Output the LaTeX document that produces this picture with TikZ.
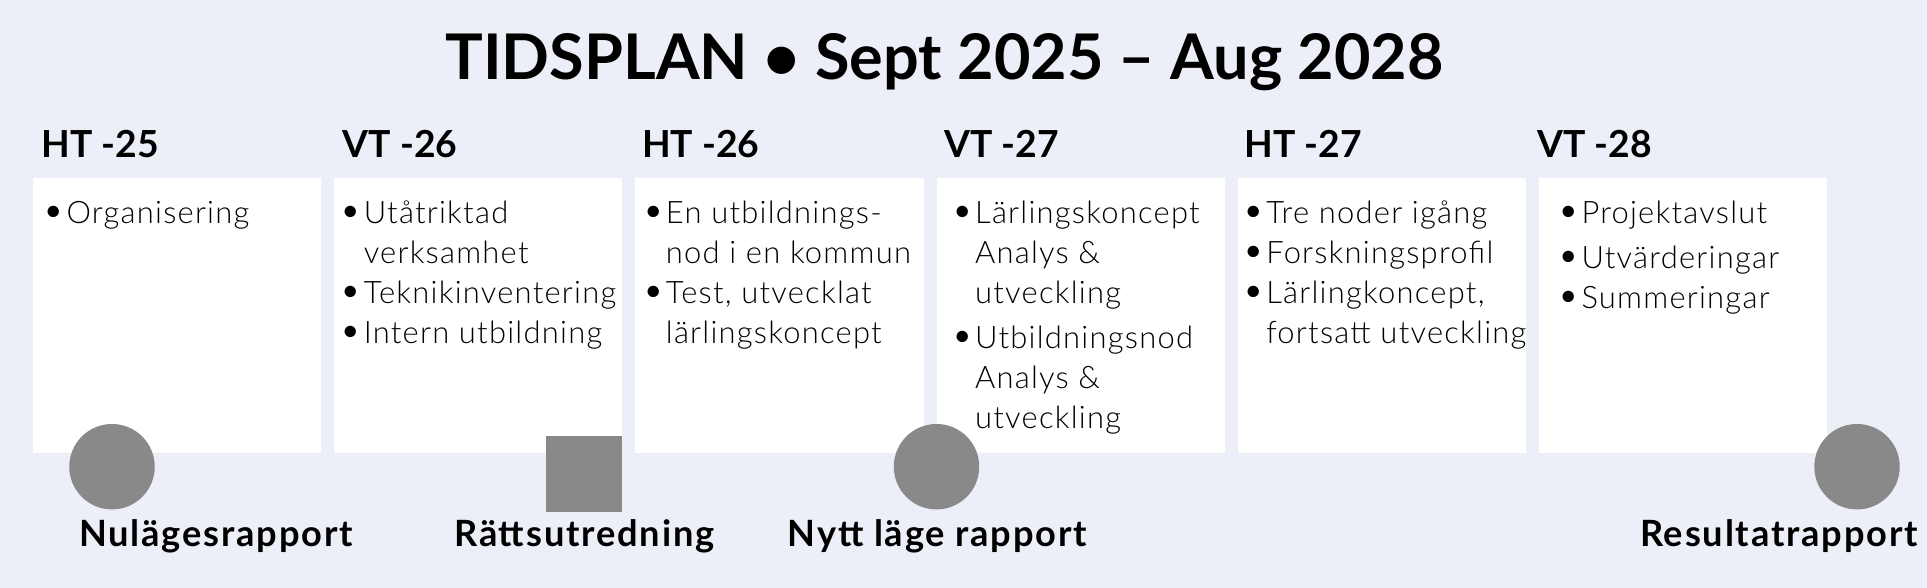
\documentclass[tikz,border=0pt]{standalone}
\usepackage{fontspec}
\setmainfont{Lato}
\newfontfamily\lightfont{Lato Light}[LetterSpace=4]
\newfontfamily\labelfont{Lato}[LetterSpace=5]
\usetikzlibrary{positioning}
\definecolor{bgblue}{RGB}{236,239,247}
\definecolor{markgray}{RGB}{137,137,137}
\newcommand{\bul}{\strut\makebox[6.8pt][l]{{\fontsize{11}{0}\selectfont •}}}
\newcommand{\ind}{\strut\hspace*{6.8pt}}

\begin{document}
\begin{tikzpicture}[x=0.01cm, y=-0.01cm,
  semester/.style={rectangle, fill=white, inner sep=0pt, outer sep=0pt, minimum width=2.88cm, minimum height=2.75cm},
  term/.style={anchor=base west, inner sep=0pt, font=\bfseries\fontsize{10.6}{12}\selectfont},
  items/.style={anchor=north west, inner sep=0pt, align=left, font=\lightfont\fontsize{8.8}{11.38}\selectfont},
  milestone/.style={fill=markgray, inner sep=0pt, outer sep=0pt},
  report/.style={anchor=base, inner sep=0pt, font=\labelfont\bfseries\fontsize{10.3}{12}\selectfont}]
%PICTURE SCOPE
\fill [bgblue] (0, 0) rectangle (1927, 588);
\useasboundingbox (0, 0) rectangle (1927, 588);
%TITLE
\node (title) [anchor=base, inner sep=0pt, font=\bfseries\fontsize{17.9}{20}\selectfont] at (944.5, 80) {TIDSPLAN • Sept 2025 – Aug 2028};
%%SEMESTERS
\node (ht25) [semester, anchor=north west] at (33, 178) {};
\node (vt26) [semester, right = 0.13cm of ht25] {};
\node (ht26) [semester, right = 0.13cm of vt26] {};
\node (vt27) [semester, right = 0.13cm of ht26] {};
\node (ht27) [semester, right = 0.13cm of vt27] {};
\node (vt28) [semester, right = 0.13cm of ht27] {};
%%HEADERS
\node (ht25h) [term] at ([xshift = 0.08cm, yshift = 0.2cm]ht25.north west) {HT -25};
\node (vt26h) [term] at ([xshift = 0.08cm, yshift = 0.2cm]vt26.north west) {VT -26};
\node (ht26h) [term] at ([xshift = 0.06cm, yshift = 0.2cm]ht26.north west) {HT -26};
\node (vt27h) [term] at ([xshift = 0.07cm, yshift = 0.2cm]vt27.north west) {VT -27};
\node (ht27h) [term] at ([xshift = 0.06cm, yshift = 0.2cm]ht27.north west) {HT -27};
\node (vt28h) [term] at ([xshift = -0.02cm, yshift = 0.2cm]vt28.north west) {VT -28};
%%ACTIVITIES
\node (ht25t) [items] at ([xshift = 0.09cm, yshift = -0.17cm]ht25.north west) {\bul Organisering};
\node (vt26t) [items] at ([xshift = 0.05cm, yshift = -0.17cm]vt26.north west) {\bul Utåtriktad\\ \ind verksamhet\\ \bul Teknikinventering\\ \bul Intern utbildning};
\node (ht26t) [items] at ([xshift = 0.06cm, yshift = -0.17cm]ht26.north west) {\bul En utbildnings-\\ \ind nod i en kommun\\ \bul Test, utvecklat\\ \ind lärlingskoncept};
\node (vt27t) [items] at ([xshift = 0.14cm, yshift = -0.17cm]vt27.north west) {\bul Lärlingskoncept\\ \ind Analys \&\\ \ind utveckling\\[1.4pt] \bul Utbildningsnod\\ \ind Analys \&\\ \ind utveckling};
\node (ht27t) [items] at ([xshift = 0.04cm, yshift = -0.17cm]ht27.north west) {\bul Tre noder igång\\ \bul Forskningsprofil\\ \bul Lärlingkoncept,\\ \ind fortsatt utveckling};
\node (vt28t) [items] at ([xshift = 0.18cm, yshift = -0.17cm]vt28.north west) {\bul Projektavslut\\[1.4pt] \bul Utvärderingar\\ \bul Summeringar};
%%MILESTONES
\node (nulage) [milestone, circle, minimum size = 0.854cm] at (112, 466.7) {};
\node (ratt) [milestone, rectangle, minimum size = 0.76cm, anchor = north east] at (vt26.south east |- 0, 435.7) {};
\node (nyttlage) [milestone, circle, minimum size = 0.854cm] at (936.5, 466.7) {};
\node (resultat) [milestone, circle, minimum size = 0.854cm] at (1857, 466.7) {};
%%REPORTS
\node (nulagel) [report] at (216, 546.7) {Nulägesrapport};
\node (rattl) [report] at (ratt.center |- 0, 546.7) {Rättsutredning};
\node (nyttlagel) [report] at (937.4, 546.7) {Nytt läge rapport};
\node (resultatl) [report] at (1779, 546.7) {Resultatrapport};
\end{tikzpicture}
\end{document}
